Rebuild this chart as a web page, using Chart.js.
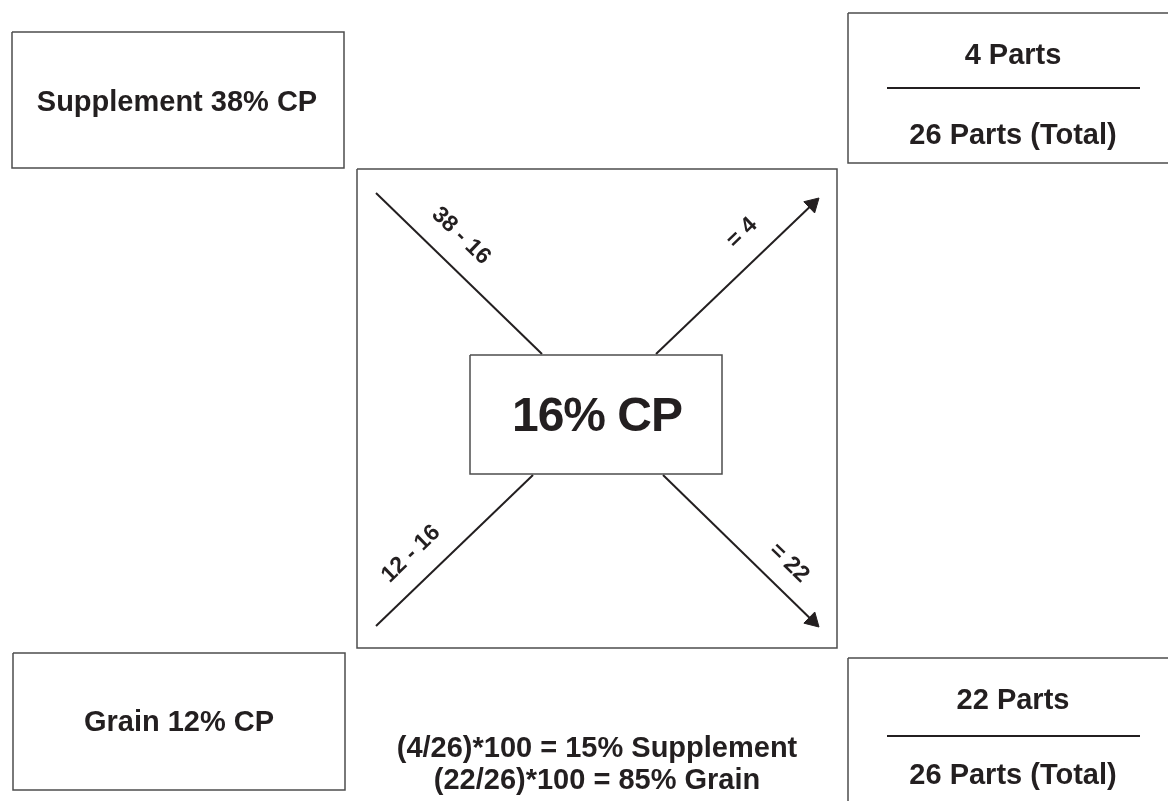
<!DOCTYPE html>
<html>
<head>
<meta charset="utf-8">
<script src="https://cdn.jsdelivr.net/npm/chart.js@4/dist/chart.umd.min.js"></script>
<style>
  html, body { margin: 0; padding: 0; background: #fff; }
  #wrap { width: 1168px; height: 801px; position: relative; }
</style>
</head>
<body>
<div id="wrap"><canvas id="square"></canvas></div>
<script>
const feeds = ['Supplement', 'Grain'];
const feedCP = [38, 12];
const targetCP = 16;
const parts = [4, 22];
const totalParts = 26;
const percents = [15, 85];

// layout of the diagram, in page pixels (the scales map 1:1)
const layout = {
    feedBoxes: [[12, 32, 344, 168], [13, 653, 345, 790]],
    partBoxes: [[848, 13, 1170, 163], [848, 658, 1170, 805]],
    square: [357, 169, 837, 648],
    centre: [470, 355, 722, 474],
    inLines: [[[376, 193], [542, 354]], [[376, 626], [533, 475]]],
    outLines: [[[656, 354], [819, 198]], [[663, 475], [819, 627]]]
};

const ink = '#231f20';
const frame = '#4d4d4d';
const fontName = '"Liberation Sans", Arial, Helvetica, sans-serif';
const headR = 9;

function rectPath(r) {
    return [
        { x: r[0], y: r[1] }, { x: r[2], y: r[1] },
        { x: r[2], y: r[3] }, { x: r[0], y: r[3] }, { x: r[0], y: r[1] }
    ];
}

const datasets = [];

layout.feedBoxes.concat(layout.partBoxes, [layout.square, layout.centre]).forEach(r => {
    datasets.push({
        data: rectPath(r),
        borderColor: frame,
        borderWidth: 1.5,
        pointRadius: 0,
        fill: false,
        tension: 0
    });
});

layout.inLines.forEach(l => {
    datasets.push({
        data: l.map(p => ({ x: p[0], y: p[1] })),
        borderColor: ink,
        borderWidth: 2,
        pointRadius: 0
    });
});

// arrows: line ends at the centre of a triangle whose tip sits on the end point
layout.outLines.forEach(l => {
    const [a, b] = l;
    const dx = b[0] - a[0], dy = b[1] - a[1];
    const len = Math.hypot(dx, dy);
    const cx = b[0] - dx / len * headR, cy = b[1] - dy / len * headR;
    const rot = Math.atan2(dx, -dy) * 180 / Math.PI;
    datasets.push({
        data: [{ x: a[0], y: a[1] }, { x: cx, y: cy }],
        borderColor: ink,
        borderWidth: 2,
        pointStyle: 'triangle',
        pointRadius: [0, headR],
        pointRotation: [0, rot],
        pointBackgroundColor: ink,
        pointBorderColor: ink,
        pointBorderWidth: 1
    });
});

// text labels, placed through the scales
const labels = [
    { t: `${feeds[0]} ${feedCP[0]}% CP`, x: 177, y: 103, size: 29 },
    { t: `${feeds[1]} ${feedCP[1]}% CP`, x: 179, y: 723, size: 29 },
    { t: `${targetCP}% CP`, x: 597, y: 418, size: 48, ls: -1 },
    { t: `${feedCP[0]} - ${targetCP}`, x: 461, y: 236, size: 23, rot: 44 },
    { t: `= ${parts[0]}`, x: 742, y: 233, size: 23, rot: -44 },
    { t: `${feedCP[1]} - ${targetCP}`, x: 411, y: 554, size: 23, rot: -44 },
    { t: `= ${parts[1]}`, x: 789, y: 563, size: 23, rot: 44 },
    { t: `${parts[0]} Parts`, x: 1013, y: 56, size: 29 },
    { t: `${totalParts} Parts (Total)`, x: 1013, y: 136, size: 29 },
    { t: `${parts[1]} Parts`, x: 1013, y: 701, size: 29 },
    { t: `${totalParts} Parts (Total)`, x: 1013, y: 776, size: 29 },
    { t: `(${parts[0]}/${totalParts})*100 = ${percents[0]}% ${feeds[0]}`, x: 597, y: 749, size: 29 },
    { t: `(${parts[1]}/${totalParts})*100 = ${percents[1]}% ${feeds[1]}`, x: 597, y: 781, size: 29 }
];
const rules = [[887, 1140, 88], [887, 1140, 736]];

const textPlugin = {
    id: 'squareText',
    afterDatasetsDraw(chart) {
        const { ctx, scales: { x, y } } = chart;
        ctx.save();
        ctx.strokeStyle = ink;
        ctx.lineWidth = 2;
        rules.forEach(r => {
            ctx.beginPath();
            ctx.moveTo(x.getPixelForValue(r[0]), y.getPixelForValue(r[2]));
            ctx.lineTo(x.getPixelForValue(r[1]), y.getPixelForValue(r[2]));
            ctx.stroke();
        });
        ctx.fillStyle = ink;
        ctx.textAlign = 'center';
        ctx.textBaseline = 'middle';
        labels.forEach(l => {
            ctx.save();
            ctx.translate(x.getPixelForValue(l.x), y.getPixelForValue(l.y));
            if (l.rot) ctx.rotate(l.rot * Math.PI / 180);
            ctx.font = `bold ${l.size}px ${fontName}`;
            ctx.letterSpacing = (l.ls || 0) + 'px';
            ctx.fillText(l.t, 0, 0);
            ctx.restore();
        });
        ctx.restore();
    }
};

new Chart(document.getElementById('square'), {
    type: 'line',
    data: { datasets: datasets },
    options: {
        responsive: true,
        maintainAspectRatio: false,
        animation: false,
        layout: { padding: 0, autoPadding: false },
        plugins: { legend: { display: false }, tooltip: { enabled: false } },
        scales: {
            x: { type: 'linear', min: 0, max: 1168, display: false },
            y: { type: 'linear', min: 0, max: 801, reverse: true, display: false }
        }
    },
    plugins: [textPlugin]
});
</script>
</body>
</html>
